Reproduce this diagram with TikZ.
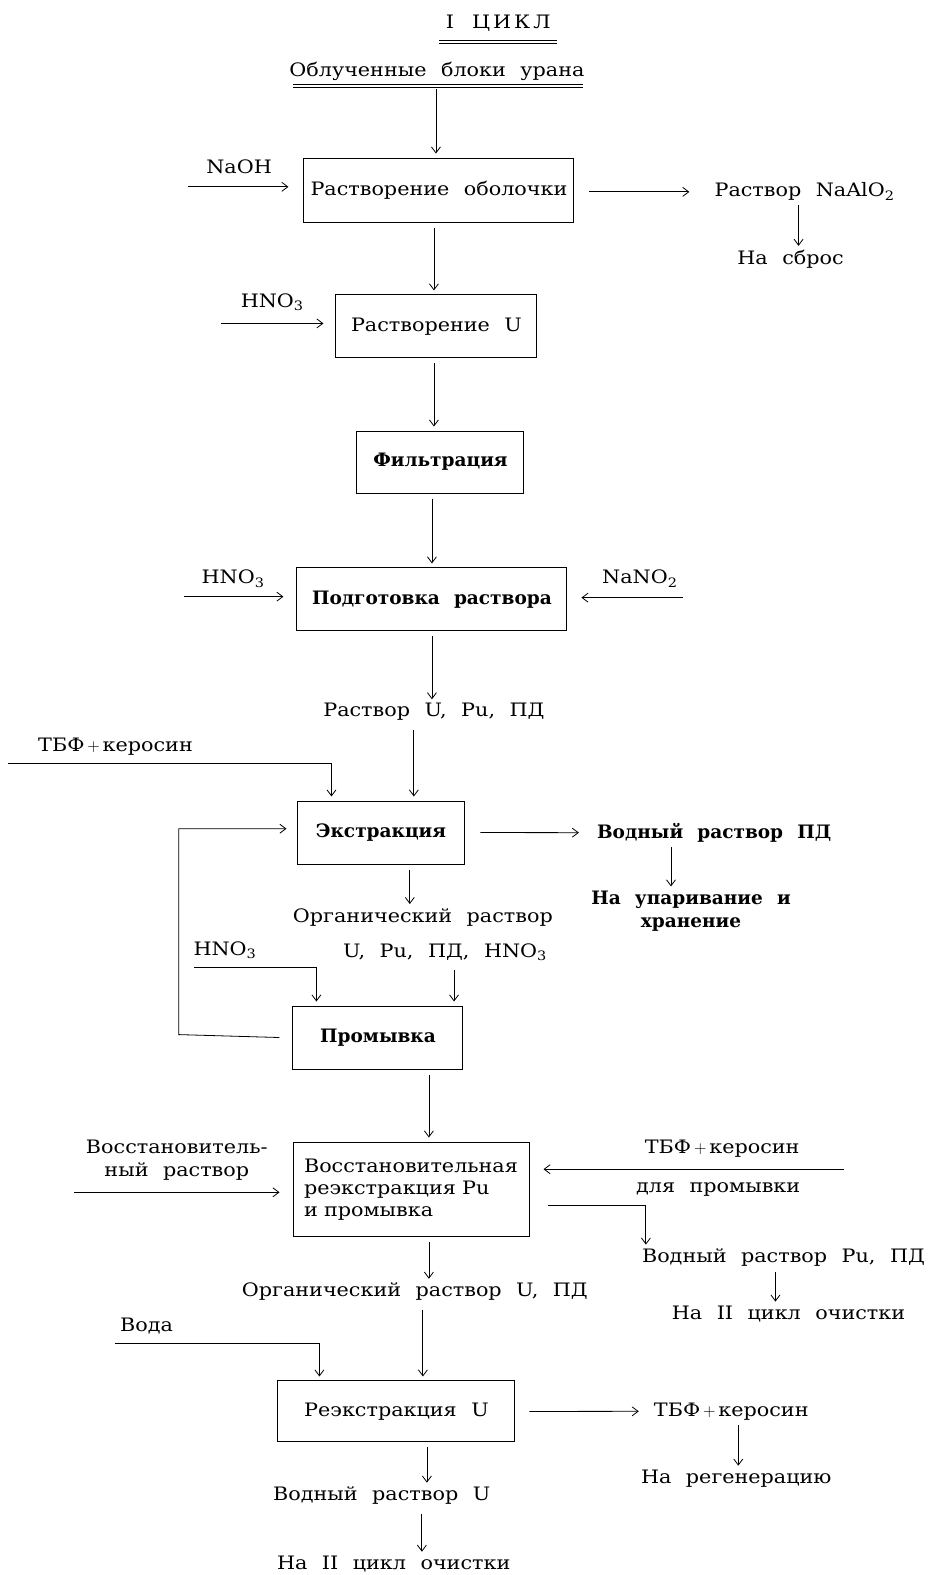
\documentclass[tikz,border=0pt]{standalone}
\usepackage{fontspec}
\setmainfont{DejaVu Serif}[FakeStretch=1.12, WordSpace=2.2]
\newfontfamily\heavyfam{DejaVu Serif}[WordSpace=2.2]
\usetikzlibrary{arrows.meta,calc}
\newcommand{\chsub}[1]{\textsubscript{#1}}
\newcommand{\heavy}{\heavyfam\fontsize{18.5}{23.5}\selectfont\bfseries}
\begin{document}
\begin{tikzpicture}[x=1.0045pt,y=-1.0045pt,
  every node/.style={font=\fontsize{18.5}{23.5}\selectfont, inner sep=0pt},
  box/.style={draw, line width=1pt, minimum width=#1},
  lab/.style={align=center},
  arr/.style={-{Straight Barb[length=6pt,width=9pt]}, line width=0.8pt, shorten <=5pt, shorten >=4pt},
  feed/.style={-{Straight Barb[length=6pt,width=9pt]}, line width=0.8pt},
  rule/.style={line width=0.7pt}]
\useasboundingbox (0,0) rectangle (930.8,1568);

% ---- heading ----
\node (title) at (496,23) {I\hspace{18pt}Ц\hspace{3pt}И\hspace{3pt}К\hspace{3pt}Л};
\draw[rule] (437,40) -- (555,40) (437,43) -- (555,43);
\node (src) at (435,71) {Облученные блоки урана};
\draw[rule] (292,84) -- (580,84) (292,87) -- (580,87);

% ---- process boxes ----
\node[box=270pt, minimum height=64pt] (b1) at (437,189.2) {Растворение оболочки};
\node[box=201pt, minimum height=63pt] (b2) at (434.5,325) {Растворение U};
\node[box=167pt, minimum height=62pt] (b3) at (438.5,460) {\heavy Фильтрация};
\node[box=270pt, minimum height=63pt] (b4) at (430,596.8) {\heavy Подготовка раствора};
\node[box=168pt, minimum height=63pt] (b5) at (379.3,828.8) {\heavy Экстракция};
\node[box=170pt, minimum height=63pt] (b6) at (376.3,1032.9) {\heavy Промывка};
\node[box=236pt, minimum height=95pt, align=left, text width=214pt, inner xsep=11pt,
      font=\fontsize{18.5}{22}\selectfont] (b7) at (409.2,1184.2)
  {Восстановительная\\реэкстракция Pu\\и промывка};
\node[box=237pt, minimum height=61pt] (b8) at (394.7,1405.2) {Реэкстракция U};

% ---- streams ----
\node (naoh) at (238,166) {NaOH};
\node (naalo) at (801,191) {Раствор NaAlO\chsub{2}};
\node (sbros) at (787,258) {На сброс};
\node (hno3a) at (271,301) {HNO\chsub{3}};
\node (hno3b) at (232,576) {HNO\chsub{3}};
\node (nano2) at (637,576) {NaNO\chsub{2}};
\node (rastv) at (432,709) {Раствор U, Pu, ПД};
\node (tbf1) at (115,743) {ТБФ$\,+\,$керосин};
\node (vodpd) at (711,829) {\heavy Водный раствор ПД};
\node[lab] (upar) at (688,907) {\heavy На упаривание и\\\heavy хранение};
\node (org1) at (421,913) {Органический раствор};
\node (org2) at (443,948) {U, Pu, ПД, HNO\chsub{3}};
\node (hno3c) at (224,946) {HNO\chsub{3}};
\node[lab] (vosst) at (176,1155) {Восстановитель-\\ный раствор};
\node (tbf2) at (719,1144) {ТБФ$\,+\,$керосин};
\node (dlya) at (715,1184) {для промывки};
\node (vodpu) at (780,1252) {Водный раствор Pu, ПД};
\node (cyc2a) at (785,1308) {На II цикл очистки};
\node (orgu) at (413,1286) {Органический раствор U, ПД};
\node (voda) at (146,1320) {Вода};
\node (tbf3) at (728,1405) {ТБФ$\,+\,$керосин};
\node (regen) at (733,1472) {На регенерацию};
\node (vodu) at (380,1489) {Водный раствор U};
\node (cyc2b) at (392,1557) {На II цикл очистки};

% ---- free ends of side feeds ----
\coordinate (naohS) at (187,186);
\coordinate (hnoaS) at (220,322);
\coordinate (hnobS) at (183,594);
\coordinate (nanoS) at (680,595);
\coordinate (tbfS) at (8,760);
\coordinate (tbfK) at (330,760);
\coordinate (hnocS) at (193,963);
\coordinate (hnocK) at (315,963);
\coordinate (vosS) at (74,1187);
\coordinate (tbf2S) at (840,1164);
\coordinate (pwK) at (643,1200);
\coordinate (vodaS) at (114,1337);
\coordinate (vodaK) at (318,1337);
\coordinate (loopL) at (178,1030);
\coordinate (loopT) at (178,825);

% ---- vertical guide columns ----
\coordinate (x434) at (434,0);
\coordinate (x432) at (432,0);
\coordinate (x430) at (430,0);
\coordinate (x412) at (412,0);
\coordinate (x408) at (408,0);
\coordinate (x452) at (452,0);
\coordinate (x427) at (427,0);
\coordinate (x421) at (421,0);
\coordinate (x425) at (425,0);
\coordinate (x420) at (420,0);
\coordinate (x795) at (795,0);
\coordinate (x668) at (668,0);
\coordinate (x772) at (772,0);
\coordinate (x735) at (735,0);

% ---- main line ----
\draw[arr, shorten <=8pt] (src.south -| x434) -- (b1.north -| x434);
\draw[arr] (b1.south -| x432) -- (b2.north -| x432);
\draw[arr] (b2.south -| x432) -- (b3.north -| x432);
\draw[arr] (b3.south -| x430) -- (b4.north -| x430);
\draw[arr] (b4.south -| x430) -- (rastv.north -| x430);
\draw[arr, shorten <=9pt] (rastv.south -| x412) -- (b5.north -| x412);
\draw[arr] (b5.south -| x408) -- (org1.north -| x408);
\draw[arr, shorten <=9pt] (org2.south -| x452) -- (b6.north -| x452);
\draw[arr] (b6.south -| x427) -- (b7.north -| x427);
\draw[arr] (b7.south -| x427) -- (orgu.north -| x427);
\draw[arr, shorten <=9pt] (orgu.south -| x421) -- (b8.north -| x421);
\draw[arr] (b8.south -| x425) -- (vodu.north -| x425);
\draw[arr, shorten <=9pt] (vodu.south -| x420) -- (cyc2b.north -| x420);

% ---- side feeds ----
\draw[feed, shorten >=15pt] (naohS) -- (b1.west |- naohS);
\draw[feed, shorten >=12pt] (hnoaS) -- (b2.west |- hnoaS);
\draw[feed, shorten >=13pt] (hnobS) -- (b4.west |- hnobS);
\draw[feed, shorten >=14pt] (nanoS) -- (b4.east |- nanoS);
\draw[feed, shorten >=4pt] (tbfS) -- (tbfK) -- (b5.north -| tbfK);
\draw[feed, shorten >=4pt] (hnocS) -- (hnocK) -- (b6.north -| hnocK);
\draw[feed, shorten >=13pt] (vosS) -- (b7.west |- vosS);
\draw[feed, shorten >=14pt] (tbf2S) -- (b7.east |- tbf2S);
\draw[feed, shorten >=4pt] (vodaS) -- (vodaK) -- (b8.north -| vodaK);

% ---- recycle from washing back to extraction ----
\draw[feed, shorten >=10pt] ([xshift=-13pt]b6.west) -- (loopL) -- (loopT) -- (b5.west |- loopT);

% ---- outlets ----
\draw[arr, shorten <=15pt, shorten >=25pt] (b1.east |- naalo.west) -- (naalo.west);
\draw[arr, shorten <=4pt] (naalo.south -| x795) -- (sbros.north -| x795);
\draw[arr, shorten <=15pt, shorten >=18pt] (b5.east) -- (vodpd.west);
\draw[arr] (vodpd.south -| x668) -- (upar.north -| x668);
\draw[feed, shorten >=4pt] ([xshift=18pt]b7.east |- pwK) -- (pwK) -- (vodpu.north -| pwK);
\draw[arr] (vodpu.south -| x772) -- (cyc2a.north -| x772);
\draw[arr, shorten <=14pt, shorten >=15pt] (b8.east) -- (tbf3.west);
\draw[arr] (tbf3.south -| x735) -- (regen.north -| x735);
\end{tikzpicture}
\end{document}
